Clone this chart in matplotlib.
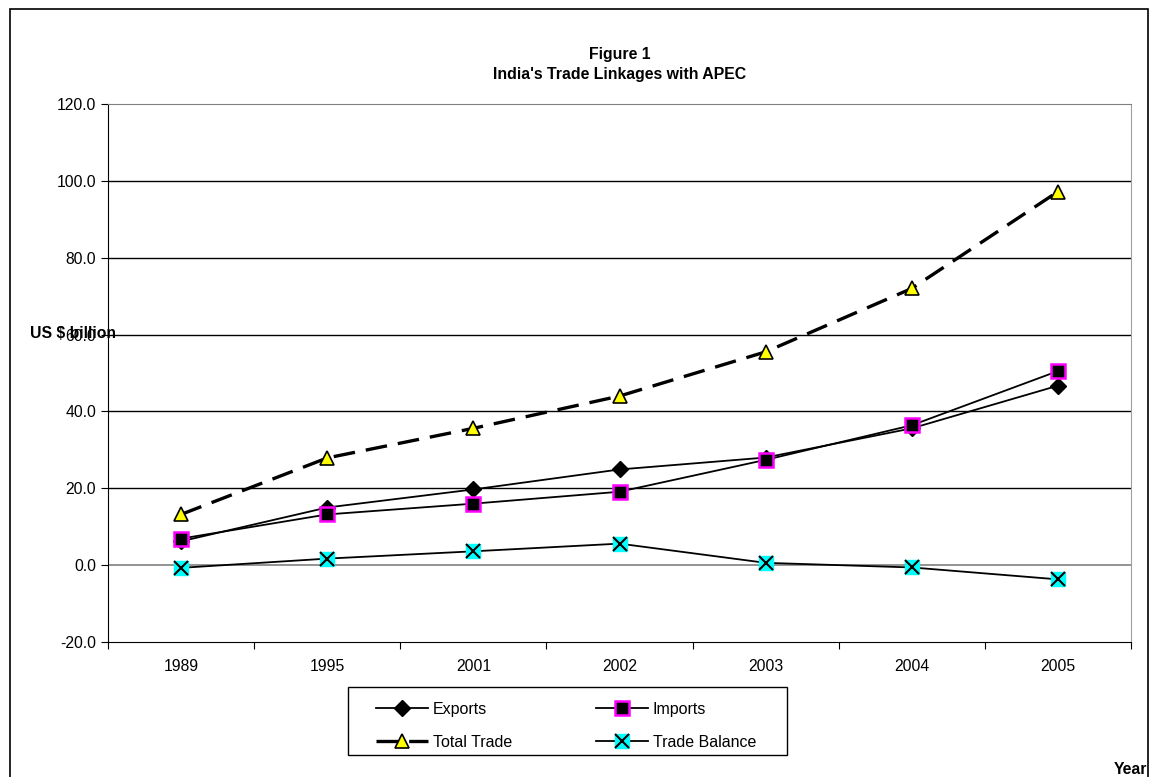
import numpy as np
import matplotlib
matplotlib.use('Agg')
import matplotlib.pyplot as plt
from matplotlib.patches import Rectangle
from matplotlib.legend_handler import HandlerTuple

plt.rcParams['font.family'] = ['Liberation Sans', 'DejaVu Sans']

years = ['1989', '1995', '2001', '2002', '2003', '2004', '2005']
exports = [6.2, 15.0, 19.7, 24.9, 28.0, 35.6, 46.7]
imports = [6.9, 13.2, 16.0, 19.1, 27.4, 36.4, 50.5]
total_trade = [13.2, 27.9, 35.6, 44.0, 55.5, 72.0, 97.2]
trade_balance = [-0.7, 1.7, 3.6, 5.6, 0.6, -0.6, -3.7]

W, H = 1155, 777
fig = plt.figure(figsize=(W / 100, H / 100), dpi=100)
ax = fig.add_axes([108 / W, 1 - 642 / H, (1131 - 108) / W, (642 - 104) / H])

x = np.arange(len(years))

ax.plot(x, exports, color='black', lw=1.3, marker='D', ms=8,
        mfc='black', mec='black', label='Exports', zorder=3)
ax.plot(x, imports, color='black', lw=1.3, marker='s', ms=10,
        mfc='black', mec='#ff00ff', mew=1.8, label='Imports', zorder=4)
ax.plot(x, total_trade, color='black', lw=2.4, dashes=(6.5, 3.3), marker='^', ms=10,
        mfc='#ffff00', mec='black', mew=1.2, label='Total Trade', zorder=3)
tb_line, = ax.plot(x, trade_balance, color='black', lw=1.3, marker='s', ms=10,
                   mfc='#00ffff', mec='#00ffff', zorder=3)
tb_x, = ax.plot(x, trade_balance, ls='none', marker='x', ms=10,
                mec='black', mew=1.5, zorder=4)

ax.set_xlim(-0.5, len(years) - 0.5)
ax.set_ylim(-20, 120)
ax.set_yticks(np.arange(-20, 121, 20))
ax.set_yticklabels([f'{v:.1f}' for v in np.arange(-20, 121, 20)], fontsize=11.3)
ax.set_xticks(np.arange(-0.5, len(years), 1.0))
ax.set_xticklabels([])
ax.set_xticks(x, minor=True)
ax.set_xticklabels(years, minor=True, fontsize=11.3)
ax.tick_params(axis='x', which='minor', length=0, pad=12)
ax.tick_params(axis='x', which='major', length=5, direction='out')
ax.tick_params(axis='y', length=5, direction='out')

for v in range(20, 101, 20):
    ax.axhline(v, color='black', lw=1, zorder=1)
ax.axhline(0, color='#808080', lw=1.2, zorder=1)
ax.spines['top'].set_color('#808080')
ax.spines['right'].set_color('#a0a0a0')
ax.spines['left'].set_color('black')
ax.spines['bottom'].set_color('black')

fig.text(620 / W, 1 - 54 / H, 'Figure 1', ha='center', va='center',
         fontsize=11.4, fontweight='bold')
fig.text(620 / W, 1 - 74 / H, "India's Trade Linkages with APEC", ha='center', va='center',
         fontsize=11.4, fontweight='bold')
fig.text(30 / W, 1 - 334 / H, 'US $ billion', ha='left', va='center',
         fontsize=11.3, fontweight='bold')
fig.text(1147 / W, 1 - 770 / H, 'Year', ha='right', va='center',
         fontsize=11.3, fontweight='bold')

# outer chart border (bottom edge is cut off in the original)
fig.patches.append(Rectangle((10 / W, -0.1), (1148 - 10) / W, 1.1 - 9 / H,
                             transform=fig.transFigure, fill=False,
                             edgecolor='black', lw=1.2))
# legend box
fig.patches.append(Rectangle((348 / W, 1 - 755 / H), (787 - 348) / W, (755 - 687) / H,
                             transform=fig.transFigure, fill=False,
                             edgecolor='black', lw=1))

handles = ax.get_lines()[:3] + [(tb_line, tb_x)]
labels = ['Exports', 'Imports', 'Total Trade', 'Trade Balance']
order = [0, 2, 1, 3]
leg = fig.legend([handles[i] for i in order], [labels[i] for i in order],
                 loc='upper left', bbox_to_anchor=(376 / W, 1 - 702 / H),
                 ncol=2, fontsize=11.5, frameon=False,
                 handlelength=3.25, handletextpad=0.3,
                 columnspacing=5.25, borderpad=0, labelspacing=1.1,
                 borderaxespad=0,
                 handler_map={tuple: HandlerTuple(ndivide=1, pad=0)})

fig.savefig('out.png', dpi=100)
